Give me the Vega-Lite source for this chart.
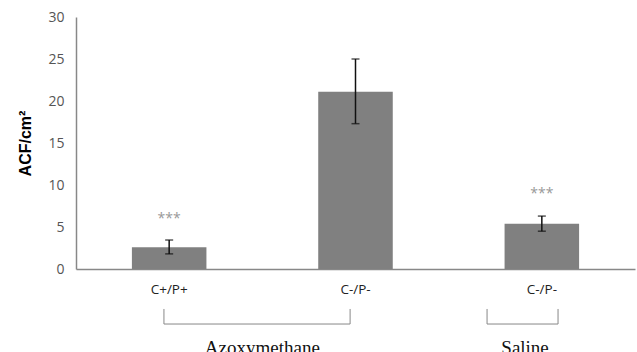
{
  "$schema": "https://vega.github.io/schema/vega-lite/v6.json",
  "width": 559,
  "height": 252,
  "autosize": {"type": "none"},
  "padding": {"left": 76, "top": 17, "right": 2, "bottom": 83},
  "background": "white",
  "config": {"view": {"stroke": null}},
  "datasets": {
    "bars": [
      {"bar": "AOM|C+/P+", "mean": 2.6, "lo": 1.8, "hi": 3.45, "star": "***", "starY": 6.0},
      {"bar": "AOM|C-/P-", "mean": 21.1, "lo": 17.3, "hi": 25.0, "star": "", "starY": 0},
      {"bar": "Saline|C-/P-", "mean": 5.4, "lo": 4.5, "hi": 6.3, "star": "***", "starY": 8.9}
    ],
    "brackets": [
      {"x": 0.472, "x2": 0.472, "y": -4.76, "y2": -6.55},
      {"x": 1.471, "x2": 1.471, "y": -4.76, "y2": -6.55},
      {"x": 0.472, "x2": 1.471, "y": -6.55, "y2": -6.55},
      {"x": 2.206, "x2": 2.206, "y": -4.76, "y2": -6.55},
      {"x": 2.587, "x2": 2.587, "y": -4.76, "y2": -6.55},
      {"x": 2.206, "x2": 2.587, "y": -6.55, "y2": -6.55}
    ],
    "groups": [
      {"name": "Azoxymethane", "x": 1.0, "y": -8.3},
      {"name": "Saline", "x": 2.41, "y": -8.3}
    ]
  },
  "layer": [
    {
      "data": {"name": "bars"},
      "encoding": {
        "x": {
          "field": "bar", "type": "nominal",
          "sort": ["AOM|C+/P+", "AOM|C-/P-", "Saline|C-/P-"],
          "scale": {"paddingInner": 0.6, "paddingOuter": 0.3},
          "axis": {
            "title": null, "labelAngle": 0, "ticks": false,
            "labelExpr": "split(datum.label, '|')[1]",
            "labelFont": "Open Sans", "labelFontSize": 13.5, "labelColor": "#222222",
            "labelPadding": 13, "domainColor": "#888888", "domainWidth": 1.5
          }
        }
      },
      "layer": [
        {
          "mark": {"type": "bar", "color": "#808080"},
          "encoding": {
            "y": {
              "field": "mean", "type": "quantitative",
              "scale": {"domain": [0, 30], "nice": false},
              "axis": {
                "title": "ACF/cm²", "values": [0, 5, 10, 15, 20, 25, 30],
                "grid": false, "ticks": false, "labelPadding": 12,
                "labelFont": "Open Sans", "labelFontSize": 14, "labelColor": "#555555",
                "domainColor": "#888888", "domainWidth": 1.5,
                "titleFont": "Liberation Sans", "titleFontSize": 16, "titleFontWeight": "bold",
                "titleColor": "#000000", "titlePadding": 14
              }
            }
          }
        },
        {
          "mark": {"type": "rule", "color": "#111111", "strokeWidth": 1.5},
          "encoding": {
            "y": {"field": "lo", "type": "quantitative"},
            "y2": {"field": "hi"}
          }
        },
        {
          "mark": {"type": "tick", "color": "#111111", "thickness": 1.5, "size": 8, "orient": "horizontal"},
          "encoding": {"y": {"field": "lo", "type": "quantitative"}}
        },
        {
          "mark": {"type": "tick", "color": "#111111", "thickness": 1.5, "size": 8, "orient": "horizontal"},
          "encoding": {"y": {"field": "hi", "type": "quantitative"}}
        },
        {
          "mark": {"type": "text", "color": "#999999", "fontSize": 14, "font": "Open Sans", "baseline": "middle"},
          "encoding": {
            "y": {"field": "starY", "type": "quantitative"},
            "text": {"field": "star"}
          }
        }
      ]
    },
    {
      "data": {"name": "brackets"},
      "mark": {"type": "rule", "color": "#888888", "strokeWidth": 1},
      "encoding": {
        "x": {"field": "x", "type": "quantitative", "scale": {"domain": [0, 3], "nice": false}, "axis": null},
        "x2": {"field": "x2"},
        "y": {"field": "y", "type": "quantitative"},
        "y2": {"field": "y2"}
      }
    },
    {
      "data": {"name": "groups"},
      "mark": {"type": "text", "color": "#111111", "fontSize": 19, "font": "Liberation Serif", "baseline": "top"},
      "encoding": {
        "x": {"field": "x", "type": "quantitative", "scale": {"domain": [0, 3], "nice": false}, "axis": null},
        "y": {"field": "y", "type": "quantitative"},
        "text": {"field": "name"}
      }
    }
  ],
  "resolve": {"scale": {"x": "independent"}}
}
